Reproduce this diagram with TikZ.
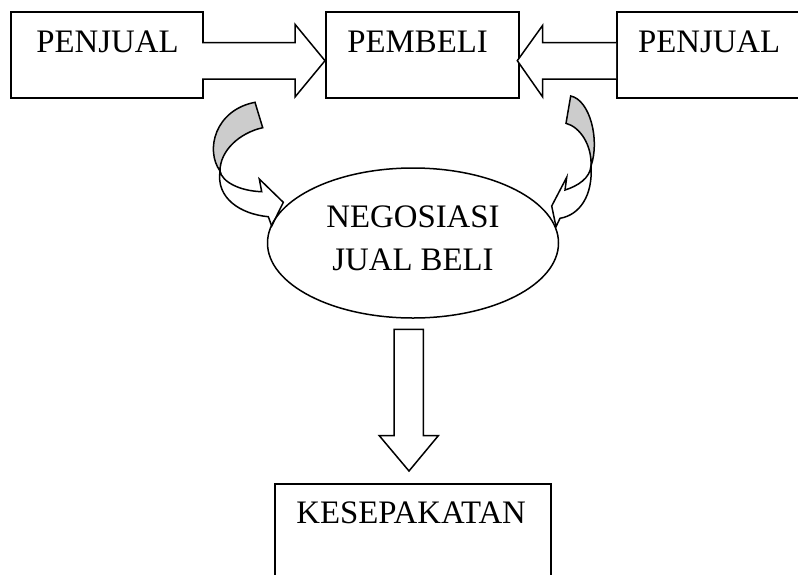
\documentclass[tikz,border=0pt]{standalone}
\usepackage{fontspec}
\setmainfont{Liberation Serif}
\usetikzlibrary{shapes.geometric}
\begin{document}
\begin{tikzpicture}[x=1pt,y=-1pt, line width=1.5pt, line join=miter,
  box/.style={draw, rectangle, inner sep=0pt, anchor=north west},
  lbl/.style={inner sep=0pt, font=\fontsize{32.8}{38}\selectfont},
  barrow/.style={draw, fill=white},
  backface/.style={draw, fill=gray!40},
  frontface/.style={draw, fill=white}]
\useasboundingbox (0,0) rectangle (798,574);
\clip (0,0) rectangle (798,574);

% boxes
\node[box, minimum width=192pt, minimum height=86pt] (seller1) at (10,11) {};
\node[box, minimum width=193pt, minimum height=86pt] (buyer) at (325,11) {};
\node[box, minimum width=200pt, minimum height=86pt] (seller2) at (616,11) {};
\node[box, minimum width=276pt, minimum height=120pt] (deal) at (274,483) {};

\node[lbl, anchor=base west] (t1) at (35.7,52.3) {PENJUAL};
\node[lbl, anchor=base west] (t2) at (346.7,52.3) {PEMBELI};
\node[lbl, anchor=base west] (t3) at (637.3,52.3) {PENJUAL};
\node[lbl, anchor=base west] (t4) at (295.7,523.3) {KESEPAKATAN};

% block arrows
\draw[barrow] (202,42.7) -- (295,42.7) -- (295,24.3) -- (325,60.7) -- (295,97) -- (295,79) -- (202,79);
\draw[barrow] (616,42.7) -- (542.7,42.7) -- (542.7,25.3) -- (517.3,60.7) -- (542.7,97) -- (542.7,79) -- (616,79);
\draw[barrow] (394,329.3) -- (423.3,329.3) -- (423.3,435.7) -- (438.3,435.7) -- (409,471) -- (379.3,435.7) -- (394,435.7) -- cycle;

% left curved arrow
\draw[backface] (255,102.3) -- (262.7,127.7) .. controls (239,133) and (220,151) .. (220,171)
  .. controls (205,150) and (215,110) .. (255,102.3) -- cycle;
\draw[frontface] (220,171) .. controls (222,182) and (240,191) .. (261.7,191.7)
  -- (259.3,179) -- (283.3,202.3) -- (271.7,226) -- (268.3,216.7)
  .. controls (240,214) and (216,198) .. (220,171) -- cycle;

% right curved arrow
\draw[backface] (570.7,96) .. controls (590,100) and (600,140) .. (591,166)
  .. controls (592,145) and (580,127) .. (566,123.3) -- cycle;
\draw[frontface] (591,166) .. controls (590,178) and (578,186) .. (565,190)
  -- (566.7,177.3) -- (551.7,206) -- (556,226.7) -- (560,218.3)
  .. controls (580,215) and (593,195) .. (591,166) -- cycle;

% ellipse
\node[draw, ellipse, minimum width=291pt, minimum height=150pt, inner sep=0pt] (nego) at (413,243) {};
\node[lbl, anchor=base] (t5) at (413,227.7) {NEGOSIASI};
\node[lbl, anchor=base] (t6) at (413,270) {JUAL BELI};
\end{tikzpicture}
\end{document}
